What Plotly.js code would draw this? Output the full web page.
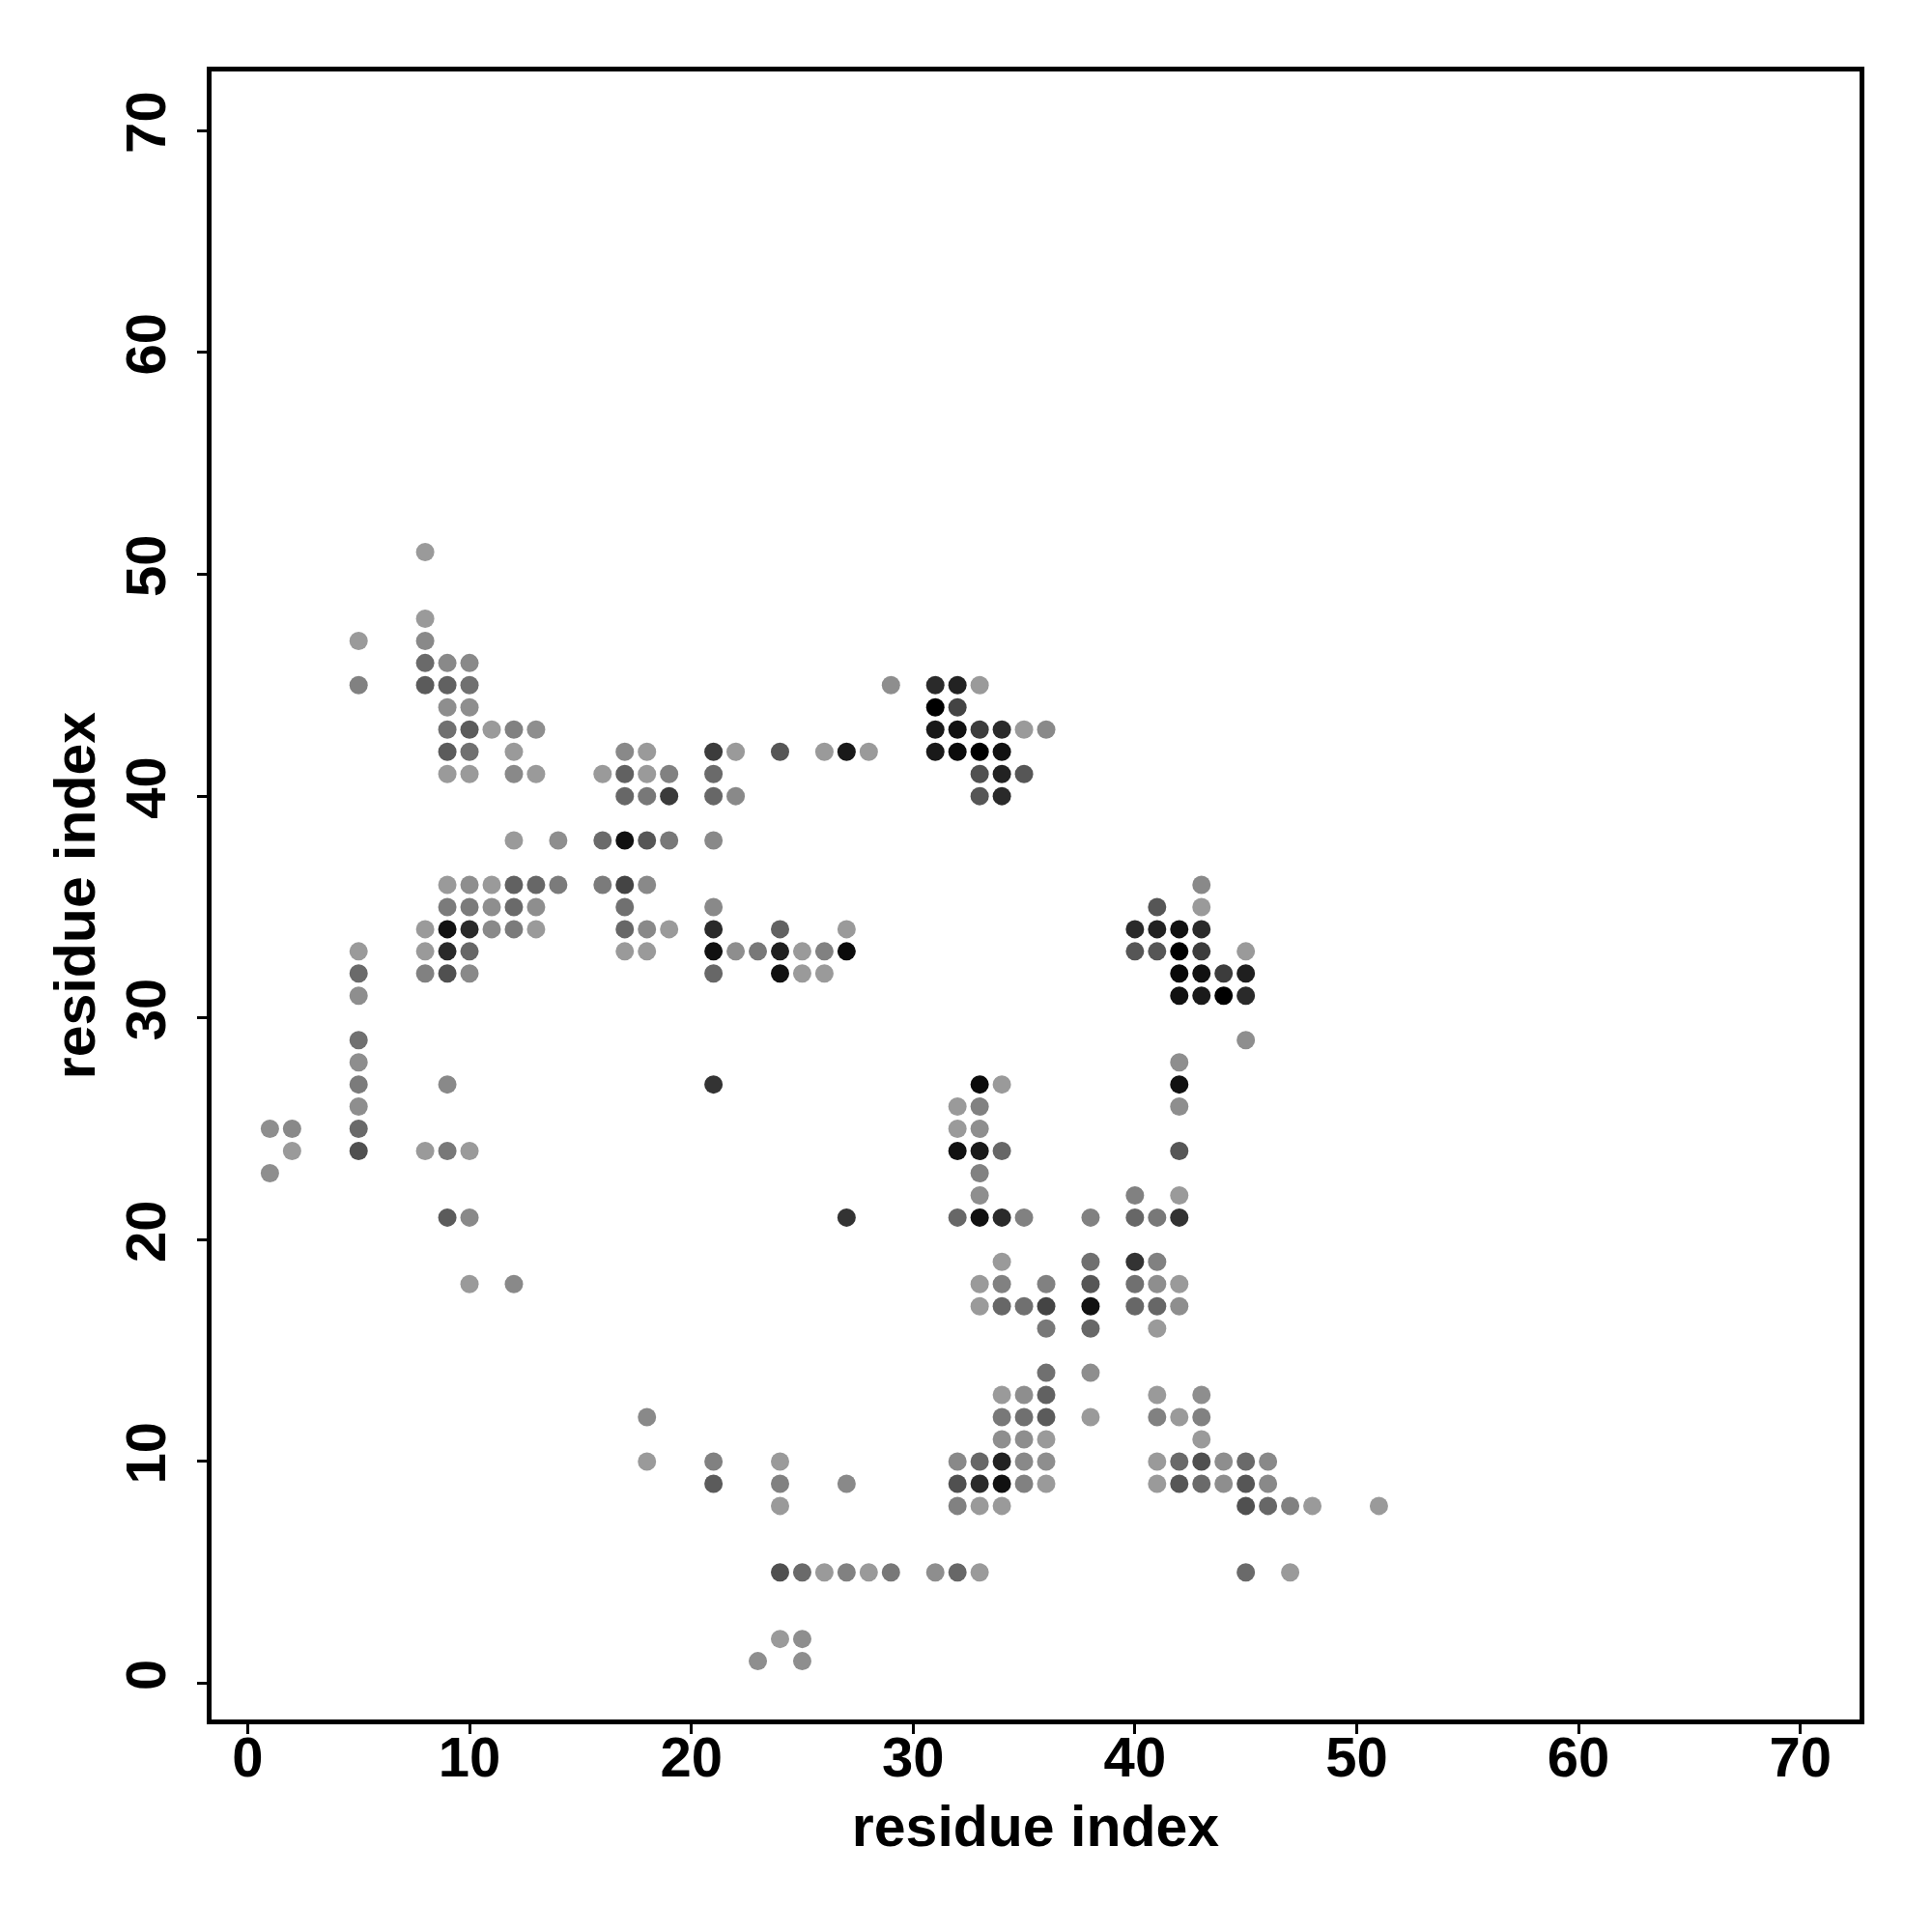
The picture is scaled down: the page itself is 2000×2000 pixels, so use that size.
<!DOCTYPE html>
<html>
<head>
<meta charset="utf-8">
<script src="https://cdn.plot.ly/plotly-3.0.1.min.js"></script>
<style>html,body{margin:0;padding:0;background:#fff;}#chart{width:2000px;height:2000px;}</style>
</head>
<body>
<div id="chart"></div>
<script>
// Contact map: residue i (x), residue j (y), contact score (0 = weakest/light grey, 1 = strongest/black)
const residueI = [
  8,
  8,
  5, 8,
  8, 9, 10,
  5, 8, 9, 10, 29, 31, 32, 33,
  9, 10, 31, 32,
  9, 10, 11, 12, 13, 31, 32, 33, 34, 35, 36,
  9, 10, 12, 17, 18, 21, 22, 24, 26, 27, 28, 31, 32, 33, 34,
  9, 10, 12, 13, 16, 17, 18, 19, 21, 33, 34, 35,
  17, 18, 19, 21, 22, 33, 34,
  12, 14, 16, 17, 18, 19, 21,
  9, 10, 11, 12, 13, 14, 16, 17, 18, 43,
  9, 10, 11, 12, 13, 17, 21, 41, 43,
  8, 9, 10, 11, 12, 13, 17, 18, 19, 21, 24, 27, 40, 41, 42, 43,
  5, 8, 9, 10, 17, 18, 21, 22, 23, 24, 25, 26, 27, 40, 41, 42, 43, 45,
  5, 8, 9, 10, 21, 24, 25, 26, 42, 43, 44, 45,
  5, 42, 43, 44, 45,
  5, 45,
  5, 42,
  5, 9, 21, 33, 34, 42,
  5, 32, 33, 42,
  1, 2, 5, 32, 33,
  2, 5, 8, 9, 10, 32, 33, 34, 42,
  1, 33,
  33, 40, 42,
  9, 10, 27, 32, 33, 34, 35, 38, 40, 41, 42,
  34, 38, 40, 41,
  10, 12, 33, 34, 36, 38, 40, 41, 42,
  33, 34, 35, 36, 38, 40, 41, 42,
  36, 38, 41,
  36, 38,
  34, 35, 36, 41, 43,
  18, 34, 35, 36, 38, 41, 42, 43,
  34, 35, 36, 43,
  18, 21, 24, 32, 33, 34, 35, 36, 41, 42, 43, 44, 45, 46,
  21, 24, 27, 32, 33, 34, 35, 36, 41, 42, 43, 44, 45, 46,
  24, 32, 33, 34, 45, 46, 47, 48, 51,
  24, 25, 26, 27, 28, 29, 31, 32, 33, 45, 47,
  24, 25,
  23, 25
];
const residueJ = [
  51,
  48,
  47, 47,
  46, 46, 46,
  45, 45, 45, 45, 45, 45, 45, 45,
  44, 44, 44, 44,
  43, 43, 43, 43, 43, 43, 43, 43, 43, 43, 43,
  42, 42, 42, 42, 42, 42, 42, 42, 42, 42, 42, 42, 42, 42, 42,
  41, 41, 41, 41, 41, 41, 41, 41, 41, 41, 41, 41,
  40, 40, 40, 40, 40, 40, 40,
  38, 38, 38, 38, 38, 38, 38,
  36, 36, 36, 36, 36, 36, 36, 36, 36, 36,
  35, 35, 35, 35, 35, 35, 35, 35, 35,
  34, 34, 34, 34, 34, 34, 34, 34, 34, 34, 34, 34, 34, 34, 34, 34,
  33, 33, 33, 33, 33, 33, 33, 33, 33, 33, 33, 33, 33, 33, 33, 33, 33, 33,
  32, 32, 32, 32, 32, 32, 32, 32, 32, 32, 32, 32,
  31, 31, 31, 31, 31,
  29, 29,
  28, 28,
  27, 27, 27, 27, 27, 27,
  26, 26, 26, 26,
  25, 25, 25, 25, 25,
  24, 24, 24, 24, 24, 24, 24, 24, 24,
  23, 23,
  22, 22, 22,
  21, 21, 21, 21, 21, 21, 21, 21, 21, 21, 21,
  19, 19, 19, 19,
  18, 18, 18, 18, 18, 18, 18, 18, 18,
  17, 17, 17, 17, 17, 17, 17, 17,
  16, 16, 16,
  14, 14,
  13, 13, 13, 13, 13,
  12, 12, 12, 12, 12, 12, 12, 12,
  11, 11, 11, 11,
  10, 10, 10, 10, 10, 10, 10, 10, 10, 10, 10, 10, 10, 10,
  9, 9, 9, 9, 9, 9, 9, 9, 9, 9, 9, 9, 9, 9,
  8, 8, 8, 8, 8, 8, 8, 8, 8,
  5, 5, 5, 5, 5, 5, 5, 5, 5, 5, 5,
  2, 2,
  1, 1
];
const contactScore = [
  0,
  0,
  0, 0.11,
  0.31, 0.11, 0.11,
  0.16, 0.41, 0.37, 0.27, 0.08, 0.73, 0.78, 0,
  0.08, 0.08, 1, 0.56,
  0.27, 0.41, 0, 0.16, 0.08, 0.84, 0.89, 0.61, 0.73, 0, 0.11,
  0.41, 0.27, 0, 0.11, 0, 0.61, 0, 0.44, 0, 0.84, 0, 0.84, 0.93, 1, 0.89,
  0, 0, 0.11, 0, 0, 0.37, 0, 0.16, 0.31, 0.48, 0.78, 0.44,
  0.33, 0.22, 0.62, 0.33, 0.11, 0.44, 0.73,
  0, 0.08, 0.31, 0.89, 0.44, 0.22, 0.11,
  0, 0.08, 0, 0.37, 0.33, 0.2, 0.2, 0.56, 0.11, 0.11,
  0.2, 0.2, 0.08, 0.31, 0.08, 0.27, 0.11, 0.44, 0,
  0, 0.89, 0.73, 0.11, 0.2, 0, 0.33, 0.11, 0, 0.73, 0.37, 0, 0.73, 0.78, 0.89, 0.73,
  0, 0, 0.73, 0.33, 0, 0, 0.89, 0.08, 0.22, 0.8, 0, 0.16, 0.93, 0.44, 0.44, 1, 0.61, 0,
  0.31, 0.16, 0.48, 0.11, 0.33, 0.89, 0, 0, 0.95, 0.89, 0.61, 0.8,
  0.08, 0.89, 0.83, 1, 0.73,
  0.27, 0.08,
  0.08, 0.08,
  0.2, 0.11, 0.67, 0.93, 0, 0.89,
  0.08, 0, 0.16, 0.08,
  0.08, 0.11, 0.31, 0, 0.08,
  0, 0.48, 0, 0.22, 0, 0.89, 0.83, 0.33, 0.44,
  0.08, 0.16,
  0.08, 0.16, 0,
  0.41, 0.11, 0.67, 0.33, 0.89, 0.73, 0.16, 0.16, 0.33, 0.22, 0.67,
  0, 0.27, 0.67, 0.16,
  0, 0.11, 0, 0.16, 0.16, 0.44, 0.27, 0.08, 0,
  0, 0.33, 0.27, 0.56, 0.89, 0.33, 0.33, 0.08,
  0.22, 0.33, 0,
  0.27, 0.08,
  0, 0.08, 0.37, 0, 0.08,
  0.11, 0.22, 0.27, 0.41, 0, 0.16, 0, 0.16,
  0.08, 0.08, 0, 0,
  0, 0.16, 0, 0.11, 0.33, 0.78, 0.11, 0.08, 0, 0.31, 0.48, 0.08, 0.31, 0.11,
  0.41, 0.16, 0.11, 0.48, 0.73, 0.89, 0.16, 0, 0, 0.44, 0.31, 0.08, 0.44, 0.11,
  0, 0.16, 0, 0, 0.48, 0.33, 0.16, 0, 0,
  0.48, 0.31, 0, 0.16, 0, 0.22, 0.08, 0.33, 0, 0.31, 0,
  0, 0.08,
  0.08, 0.08
];
const axisTicks = [0, 10, 20, 30, 40, 50, 60, 70];
const axisLabel = 'residue index';

const FONT = 'Liberation Sans, Arial, Helvetica, sans-serif';

const trace = {
  type: 'scatter',
  mode: 'markers',
  x: residueI,
  y: residueJ,
  marker: {
    size: 19,
    color: contactScore,
    cmin: 0,
    cmax: 1,
    colorscale: [[0, '#9a9a9a'], [1, '#000000']],
    showscale: false,
    line: {width: 0}
  },
  hoverinfo: 'x+y'
};

function axisBase() {
  return {
    range: [-1.63, 72.67],
    tickmode: 'array',
    tickvals: axisTicks,
    ticktext: axisTicks.map(String),
    ticks: 'outside',
    ticklen: 10,
    tickwidth: 3,
    tickcolor: '#000',
    showline: true,
    linewidth: 5,
    linecolor: '#000',
    mirror: true,
    showgrid: false,
    zeroline: false,
    automargin: false,
    tickfont: {family: FONT, size: 58, color: '#000', weight: 'bold'},
    title: {text: axisLabel, font: {family: FONT, size: 59, color: '#000', weight: 'bold'}}
  };
}

const xaxis = axisBase();
xaxis.ticklabelstandoff = -26;
xaxis.title.standoff = 22;
const yaxis = axisBase();
yaxis.tickangle = -90;
yaxis.ticklabelstandoff = 10;
yaxis.title.standoff = 2;

const layout = {
  width: 2000,
  height: 2000,
  autosize: false,
  paper_bgcolor: '#fff',
  plot_bgcolor: '#fff',
  showlegend: false,
  margin: {l: 219, r: 75, t: 74, b: 220, pad: 0},
  xaxis: xaxis,
  yaxis: yaxis
};

Plotly.newPlot('chart', [trace], layout, {staticPlot: true, displayModeBar: false});
</script>
</body>
</html>
